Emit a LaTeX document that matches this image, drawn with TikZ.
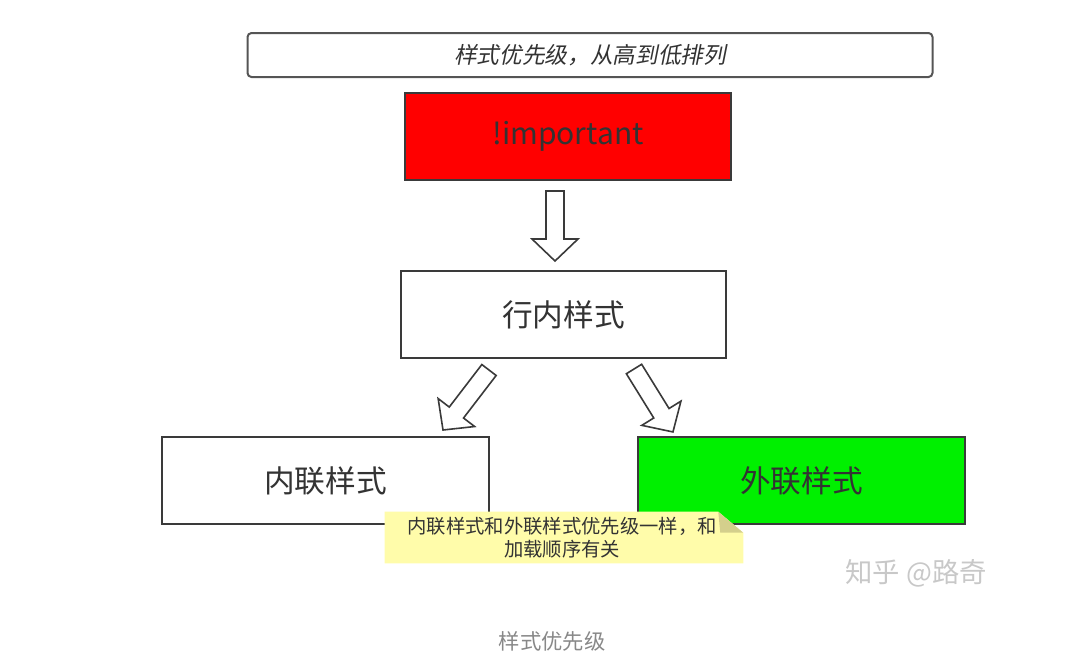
\documentclass[tikz,border=0pt]{standalone}
\usepackage{fontspec}
\setmainfont{Noto Sans CJK SC}
\newfontfamily\slantfont{Noto Sans CJK SC}[FakeSlant=0.2]
\usetikzlibrary{calc}

\definecolor{edgegray}{HTML}{3A3A3A}
\definecolor{textgray}{HTML}{333333}
\definecolor{framegray}{HTML}{555555}
\definecolor{notefill}{HTML}{FFFCAA}
\definecolor{notefold}{HTML}{D4CF8C}
\definecolor{markgray}{HTML}{C8C8C8}
\definecolor{captiongray}{HTML}{888888}
\definecolor{boxgreen}{HTML}{00F000}

\tikzset{
  stagebox/.style={draw=edgegray, line width=1.5pt, text=textgray,
    minimum width=244.5pt, minimum height=65.25pt, inner sep=0pt,
    font=\fontsize{23pt}{26pt}\selectfont},
  blockarrow/.style={draw=edgegray, line width=1.2pt, fill=white, line join=miter},
}

% hollow block arrow from #1 to the tip #2
\newcommand\blockarrow[2]{%
  \path[blockarrow] let \p1=($(#2)-(#1)$), \n1={atan2(\y1,\x1)}, \n2={veclen(\x1,\y1)} in
    [shift={(#1)}, rotate=\n1]
    (0pt,-6.75pt) -- ({\n2*1pt-16.5pt},-6.75pt) -- ({\n2*1pt-16.5pt},-17.25pt)
    -- ({\n2*1pt},0pt) -- ({\n2*1pt-16.5pt},17.25pt) -- ({\n2*1pt-16.5pt},6.75pt)
    -- (0pt,6.75pt) -- cycle;}

\begin{document}
\begin{tikzpicture}[x=0.75pt, y=-0.75pt]
  \useasboundingbox (0,0) rectangle (1077,668);

  % heading
  \node[draw=framegray, line width=1.5pt, rounded corners=3pt, fill=white,
        minimum width=513.75pt, minimum height=33pt, inner sep=0pt,
        text=textgray, font=\slantfont\fontsize{17pt}{19pt}\selectfont]
    (head) at (590,55) {样式优先级，从高到低排列};

  % priority levels
  \node[stagebox, fill=red, font=\fontsize{22.5pt}{26pt}\selectfont] (imp) at (568,136.5) {!important};
  \node[stagebox, fill=white, minimum width=243.75pt] (inl) at (563.5,314.5) {行内样式};
  \node[stagebox, fill=white, minimum width=245.25pt] (inner) at (325.5,480.5) {内联样式};
  \node[stagebox, fill=boxgreen, minimum width=245.25pt] (ext) at (801.5,480.5) {外联样式};

  % arrow anchors
  \coordinate (s0) at ($(imp.south)+(-13,10)$);
  \coordinate (t0) at ($(inl.north)+(-8.5,-9)$);
  \coordinate (s1) at ($(inl.south)+(-74.5,11)$);
  \coordinate (t1) at ($(inner.north)+(117.5,-6)$);
  \coordinate (s2) at ($(inl.south)+(70.5,10)$);
  \coordinate (t2) at ($(ext.north)+(-128.5,-4)$);

  \blockarrow{s0}{t0}
  \blockarrow{s1}{t1}
  \blockarrow{s2}{t2}

  % sticky note with folded corner
  \node[minimum width=268.5pt, minimum height=38.25pt, inner sep=0pt]
    (note) at (564,537.5) {};
  \fill[notefill] (note.south west) -- (note.north west)
    -- ($(note.north east)+(-25,0)$) -- ($(note.north east)+(0,21)$)
    -- (note.south east) -- cycle;
  \fill[notefold] ($(note.north east)+(-25,0)$) -- ($(note.north east)+(0,21)$)
    -- ($(note.north east)+(-23,21)$) -- cycle;
  \node[align=center, text=textgray, font=\fontsize{14.5pt}{17pt}\selectfont]
    (notetext) at ($(note.center)+(-2,0)$) {内联样式和外联样式优先级一样，和\\加载顺序有关};

  % watermark and caption
  \node[text=markgray, font=\fontsize{20.5pt}{22pt}\selectfont] (mark) at (916,573) {知乎 @路奇};
  \node[text=captiongray, font=\fontsize{16pt}{18pt}\selectfont] (caption) at (552,641) {样式优先级};
\end{tikzpicture}
\end{document}
